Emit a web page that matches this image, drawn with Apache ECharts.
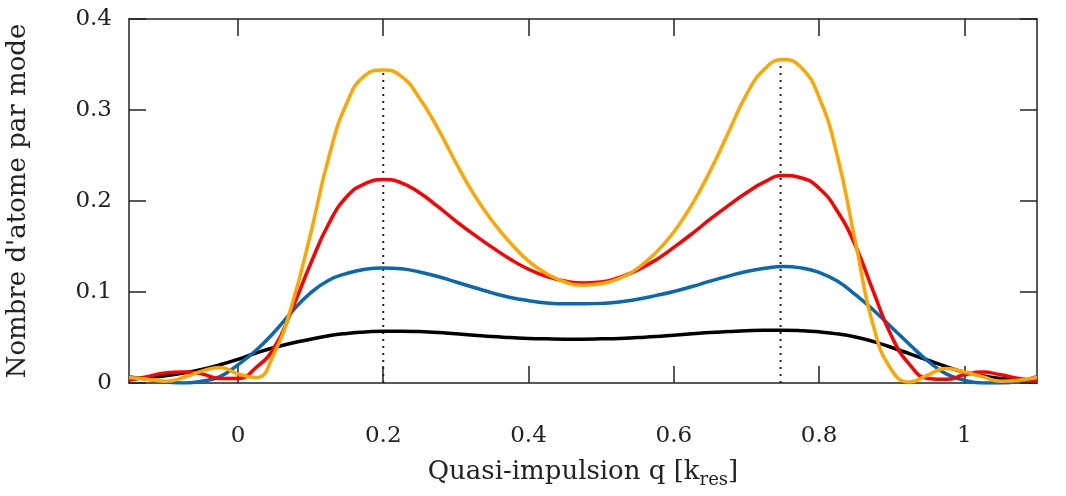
<!DOCTYPE html>
<html>
<head>
    <meta charset="UTF-8">
    <title>Nombre d'atome par mode</title>
</head>
<body style="margin: 0;overflow: hidden;background: #fff;">
<div id="chart" style="width: 1066px;height:496px"></div>

<script type="text/javascript" src="https://cdn.jsdelivr.net/npm/echarts@6/dist/echarts.min.js"></script>
<script type="text/javascript">
    // quasi-impulsion q (k_res)
    var q = [-0.15, -0.125, -0.1, -0.075, -0.05, -0.025, 0, 0.025, 0.05, 0.075, 0.1, 0.125, 0.15, 0.175, 0.2,
        0.225, 0.25, 0.275, 0.3, 0.325, 0.35, 0.375, 0.4, 0.425, 0.45, 0.475,
        0.5, 0.525, 0.55, 0.575, 0.6, 0.625, 0.65, 0.675, 0.7, 0.725, 0.75,
        0.775, 0.8, 0.825, 0.85, 0.875, 0.9, 0.925, 0.95, 0.975, 1, 1.025, 1.05, 1.075, 1.1];

    var black = [0.004, 0.006, 0.008, 0.011, 0.015, 0.020, 0.026, 0.033, 0.039, 0.044, 0.048, 0.052, 0.0545, 0.056, 0.057,
        0.057, 0.0565, 0.0555, 0.054, 0.0525, 0.051, 0.050, 0.049, 0.0485, 0.0482, 0.0482,
        0.0485, 0.049, 0.050, 0.051, 0.0525, 0.054, 0.0555, 0.0565, 0.0575, 0.058, 0.058,
        0.0575, 0.0562, 0.054, 0.0505, 0.0455, 0.039, 0.032, 0.025, 0.018, 0.012, 0.008, 0.005, 0.004, 0.003];

    var blue = [0.007, 0.004, 0.001, 0.000, 0.002, 0.007, 0.020, 0.036, 0.056, 0.079, 0.099, 0.113, 0.1205, 0.125, 0.1265,
        0.1255, 0.122, 0.117, 0.111, 0.105, 0.099, 0.094, 0.0905, 0.088, 0.087, 0.087,
        0.0875, 0.089, 0.092, 0.096, 0.1005, 0.106, 0.112, 0.1175, 0.1225, 0.126, 0.128,
        0.1265, 0.1215, 0.112, 0.097, 0.080, 0.061, 0.042, 0.024, 0.010, 0.003, 0.000, 0.000, 0.002, 0.007];

    var red = [0.003, 0.007, 0.011, 0.012, 0.010, 0.005, 0.005, 0.017, 0.039, 0.082, 0.131, 0.175, 0.205, 0.219, 0.2235,
        0.220, 0.209, 0.194, 0.178, 0.163, 0.149, 0.136, 0.125, 0.117, 0.112, 0.110,
        0.111, 0.116, 0.124, 0.135, 0.149, 0.164, 0.180, 0.195, 0.209, 0.221, 0.228,
        0.2255, 0.214, 0.189, 0.151, 0.100, 0.051, 0.020, 0.005, 0.004, 0.009, 0.012, 0.009, 0.005, 0.002];

    var orange = [0.006, 0.004, 0.002, 0.006, 0.013, 0.017, 0.010, 0.006, 0.033, 0.088, 0.164, 0.248, 0.308, 0.338, 0.344,
        0.337, 0.313, 0.280, 0.242, 0.207, 0.178, 0.154, 0.134, 0.120, 0.111, 0.1075,
        0.109, 0.115, 0.126, 0.143, 0.166, 0.196, 0.233, 0.275, 0.317, 0.345, 0.3555,
        0.347, 0.314, 0.250, 0.155, 0.062, 0.014, 0.001, 0.009, 0.016, 0.012, 0.007, 0.002, 0.003, 0.006];

    // dotted markers at the two maxima
    var peakQ = [0.2, 0.747];
    var peakTop = [0.344, 0.3555];

    var xTicks = [0, 0.2, 0.4, 0.6, 0.8, 1];

    var font = 'DejaVu Serif';
    var axisColor = '#222';

    function pairs(ys) {
        return q.map(function (x, i) { return [x, ys[i]]; });
    }

    function curve(name, ys, color) {
        return {
            name: name,
            type: 'line',
            data: pairs(ys),
            smooth: 0.5,
            showSymbol: false,
            lineStyle: {color: color, width: 3.5},
            z: 3
        };
    }

    var series = [];
    for (var i = 0; i < peakQ.length; i++) {
        series.push({
            type: 'line',
            data: [[peakQ[i], 0], [peakQ[i], peakTop[i]]],
            showSymbol: false,
            lineStyle: {color: axisColor, width: 2, type: [2, 5]},
            z: 2
        });
    }
    series.push(curve('a', black, '#000000'));
    series.push(curve('b', blue, '#0868b2'));
    series.push(curve('c', red, '#ff0000'));
    series.push(curve('d', orange, '#ffa500'));

    var lineStyle = {color: axisColor, width: 1.5};

    var option = {
        animation: false,
        backgroundColor: '#fff',
        grid: {left: 129, right: 29, top: 19, bottom: 113, outerBoundsMode: 'none', containLabel: false},
        xAxis: [{
            type: 'value',
            min: -0.15,
            max: 1.1,
            position: 'bottom',
            axisLine: {show: true, onZero: false, lineStyle: lineStyle},
            axisTick: {show: true, inside: true, length: 17, customValues: xTicks, lineStyle: lineStyle},
            axisLabel: {customValues: xTicks, margin: 42, fontFamily: font, fontSize: 23, color: axisColor},
            splitLine: {show: false},
            name: 'Quasi-impulsion q [k{sub|res}]',
            nameLocation: 'middle',
            nameGap: 72,
            nameTextStyle: {
                fontFamily: font, fontSize: 26, color: axisColor,
                rich: {sub: {fontFamily: font, fontSize: 18, color: axisColor, padding: [16, 0, 0, 0]}}
            }
        }, {
            type: 'value',
            min: -0.15,
            max: 1.1,
            position: 'top',
            axisLine: {show: true, onZero: false, lineStyle: lineStyle},
            axisTick: {show: true, inside: true, length: 17, customValues: xTicks, lineStyle: lineStyle},
            axisLabel: {show: false},
            splitLine: {show: false}
        }],
        yAxis: [{
            type: 'value',
            min: 0,
            max: 0.4,
            interval: 0.1,
            position: 'left',
            axisLine: {show: true, onZero: false, lineStyle: lineStyle},
            axisTick: {show: true, inside: true, length: 17, lineStyle: lineStyle},
            axisLabel: {margin: 17, fontFamily: font, fontSize: 23, color: axisColor},
            splitLine: {show: false},
            name: "Nombre d'atome par mode",
            nameLocation: 'middle',
            nameRotate: 90,
            nameGap: 98,
            nameTextStyle: {fontFamily: font, fontSize: 26, color: axisColor}
        }, {
            type: 'value',
            min: 0,
            max: 0.4,
            interval: 0.1,
            position: 'right',
            axisLine: {show: true, onZero: false, lineStyle: lineStyle},
            axisTick: {show: true, inside: true, length: 17, lineStyle: lineStyle},
            axisLabel: {show: false},
            splitLine: {show: false}
        }],
        series: series
    };

    var chart = echarts.init(document.getElementById('chart'));
    chart.setOption(option);
</script>
</body>
</html>
